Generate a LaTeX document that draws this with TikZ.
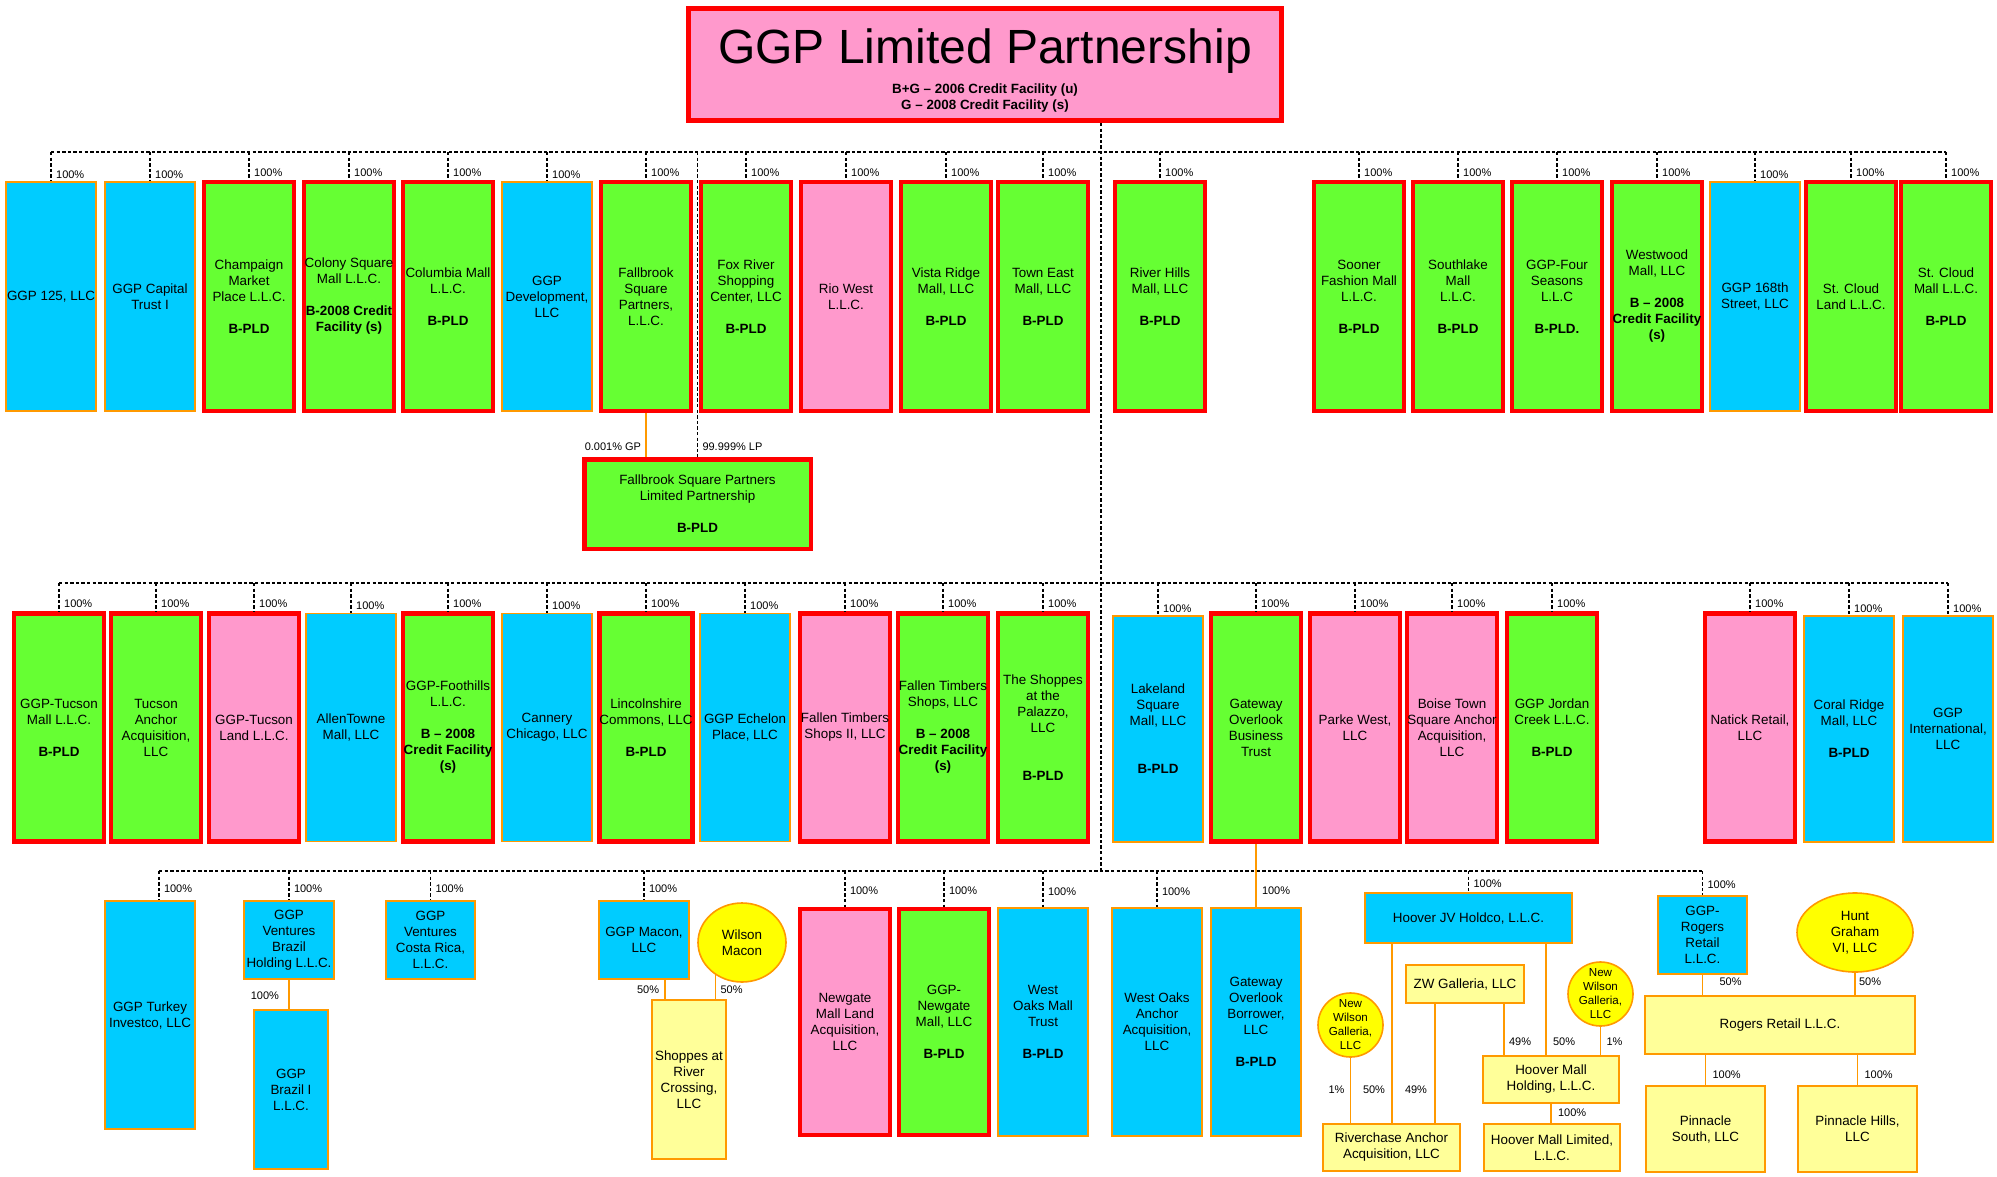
\documentclass[tikz,border=0pt]{standalone}
\usepackage[rgb]{xcolor}
\usepackage{tikz}
\usetikzlibrary{shapes.geometric}
\usepackage{fontspec}
\setmainfont{Liberation Sans}

\definecolor{ggpblue}{HTML}{00CCFF}
\definecolor{ggpgreen}{HTML}{66FF33}
\definecolor{ggppink}{HTML}{FF99CC}
\definecolor{ggpred}{HTML}{FF0000}
\definecolor{ggporange}{HTML}{FF9900}
\definecolor{ggpcream}{HTML}{FFFF99}
\definecolor{ggpyellow}{HTML}{FFFF00}

\tikzset{
 entity/.style={rectangle, inner sep=0pt, align=center, font=\fontsize{6.7}{8}\selectfont},
 bluebox/.style={entity, fill=ggpblue, draw=ggporange, line width=0.55pt},
 greenbox/.style={entity, fill=ggpgreen, draw=ggpred, line width=2.25pt},
 pinkbox/.style={entity, fill=ggppink, draw=ggpred, line width=2.25pt},
 creambox/.style={entity, fill=ggpcream, draw=ggporange, line width=0.9pt},
 partner/.style={entity, ellipse, fill=ggpyellow, draw=ggporange, line width=0.8pt},
 smallpartner/.style={partner, font=\fontsize{5.8}{7}\selectfont, inner ysep=-3pt,
  minimum width=32.5pt, minimum height=32pt},
 tower/.style={minimum width=45pt, minimum height=#1},
 tower/.default=114.5pt,
 owns/.style={dash pattern=on 1.7pt off 1.1pt, line width=0.55pt},
 share/.style={draw=ggporange, line width=0.75pt},
 pct/.style={inner sep=0.8pt, font=\fontsize{5.5}{6.5}\selectfont}
}

\begin{document}
\begin{tikzpicture}[x=0.5pt, y=-0.5pt]
\useasboundingbox (0,0) rectangle (1997,1177);

% the partnership on top
\node[pinkbox, line width=2.5pt, minimum width=296.5pt, minimum height=56pt] (ggplp) at (985,64.5) {};
\node[anchor=base, inner sep=0pt, font=\fontsize{24}{28}\selectfont] (ggptitle) at (985,64) {GGP Limited Partnership};
\node[entity, anchor=base] (creditu) at (985,94) {\textbf{B+G – 2006 Credit Facility (u)}};
\node[entity, anchor=base] (credits) at (985,110) {\textbf{G – 2008 Credit Facility (s)}};

\coordinate (barone) at (1101,152);
\coordinate (bartwo) at (1101,583);
\coordinate (barthree) at (1101,871);

% first row
\path
(51,296.5) node[bluebox, tower] (g125) {GGP 125, LLC}
(150,296.5) node[bluebox, tower] (captrust) {GGP Capital\\Trust I}
(249,296.5) node[greenbox, tower] (champaign) {Champaign\\Market\\Place L.L.C.\\[8pt]\textbf{B-PLD}}
(349,296.5) node[greenbox, tower] (colony) {Colony Square\\Mall L.L.C.\\[8pt]\textbf{B-2008 Credit}\\\textbf{Facility (s)}}
(448,296.5) node[greenbox, tower] (columbia) {Columbia Mall\\L.L.C.\\[8pt]\textbf{B-PLD}}
(547,296.5) node[bluebox, tower] (development) {GGP\\Development,\\LLC}
(646,296.5) node[greenbox, tower] (fallbrook) {Fallbrook\\Square\\Partners,\\L.L.C.}
(746,296.5) node[greenbox, tower] (foxriver) {Fox River\\Shopping\\Center, LLC\\[8pt]\textbf{B-PLD}}
(846,296.5) node[pinkbox, tower] (riowest) {Rio West\\L.L.C.}
(946,296.5) node[greenbox, tower] (vistaridge) {Vista Ridge\\Mall, LLC\\[8pt]\textbf{B-PLD}}
(1043,296.5) node[greenbox, tower] (towneast) {Town East\\Mall, LLC\\[8pt]\textbf{B-PLD}}
(1160,296.5) node[greenbox, tower] (riverhills) {River Hills\\Mall, LLC\\[8pt]\textbf{B-PLD}}
(1359,296.5) node[greenbox, tower] (sooner) {Sooner\\Fashion Mall\\L.L.C.\\[8pt]\textbf{B-PLD}}
(1458,296.5) node[greenbox, tower] (southlake) {Southlake\\Mall\\L.L.C.\\[8pt]\textbf{B-PLD}}
(1557,296.5) node[greenbox, tower] (fourseasons) {GGP-Four\\Seasons\\L.L.C\\[8pt]\textbf{B-PLD.}}
(1657,296.5) node[greenbox, tower] (westwood) {Westwood\\Mall, LLC\\[8pt]\textbf{B – 2008}\\\textbf{Credit Facility}\\\textbf{(s)}}
(1755,296.5) node[bluebox, tower] (street168) {GGP 168th\\Street, LLC}
(1851,296.5) node[greenbox, tower] (cloudland) {St. Cloud\\Land L.L.C.}
(1946,296.5) node[greenbox, tower] (cloudmall) {St. Cloud\\Mall L.L.C.\\[8pt]\textbf{B-PLD}};

% fallbrook limited partnership
\node[greenbox, minimum width=113.25pt, minimum height=44.75pt] (fsplp) at (697.5,504)
 {Fallbrook Square Partners\\Limited Partnership\\[8pt]\textbf{B-PLD}};

% second row
\path
(59,727.5) node[greenbox, tower=114pt] (tucsonmall) {GGP-Tucson\\Mall L.L.C.\\[8pt]\textbf{B-PLD}}
(156,727.5) node[greenbox, tower=114pt] (tucsonanchor) {Tucson\\Anchor\\Acquisition,\\LLC}
(254,727.5) node[pinkbox, tower=114pt] (tucsonland) {GGP-Tucson\\Land L.L.C.}
(351,727.5) node[bluebox, tower=114pt] (allentowne) {AllenTowne\\Mall, LLC}
(448,727.5) node[greenbox, tower=114pt] (foothills) {GGP-Foothills\\L.L.C.\\[8pt]\textbf{B – 2008}\\\textbf{Credit Facility}\\\textbf{(s)}}
(547,727.5) node[bluebox, tower=114pt] (cannery) {Cannery\\Chicago, LLC}
(646,727.5) node[greenbox, tower=114pt] (lincolnshire) {Lincolnshire\\Commons, LLC\\[8pt]\textbf{B-PLD}}
(745,727.5) node[bluebox, tower=114pt] (echelon) {GGP Echelon\\Place, LLC}
(845,727.5) node[pinkbox, tower=114pt] (timberstwo) {Fallen Timbers\\Shops II, LLC}
(943,727.5) node[greenbox, tower=114pt] (timbers) {Fallen Timbers\\Shops, LLC\\[8pt]\textbf{B – 2008}\\\textbf{Credit Facility}\\\textbf{(s)}}
(1043,727.5) node[greenbox, tower=114pt] (palazzo) {The Shoppes\\at the\\Palazzo,\\LLC\\[16pt]\textbf{B-PLD}}
(1158,729) node[bluebox, tower=113pt] (lakeland) {Lakeland\\Square\\Mall, LLC\\[16pt]\textbf{B-PLD}}
(1256,727.5) node[greenbox, tower=114pt] (gatewaytrust) {Gateway\\Overlook\\Business\\Trust}
(1355,727.5) node[pinkbox, tower=114pt] (parkewest) {Parke West,\\LLC}
(1452,727.5) node[pinkbox, tower=114pt] (boise) {Boise Town\\Square Anchor\\Acquisition,\\LLC}
(1552,727.5) node[greenbox, tower=114pt] (jordan) {GGP Jordan\\Creek L.L.C.\\[8pt]\textbf{B-PLD}}
(1750,727.5) node[pinkbox, tower=114pt] (natick) {Natick Retail,\\LLC}
(1849,729) node[bluebox, tower=113pt] (coralridge) {Coral Ridge\\Mall, LLC\\[8pt]\textbf{B-PLD}}
(1948,729) node[bluebox, tower=113pt] (international) {GGP\\International,\\LLC};

% third row
\path
(150,1015) node[bluebox, tower=114pt] (turkey) {GGP Turkey\\Investco, LLC}
(289,940) node[bluebox, minimum width=45pt, minimum height=39pt] (brazilholding) {GGP\\Ventures\\Brazil\\Holding L.L.C.}
(291,1089.5) node[bluebox, minimum width=37pt, minimum height=79.5pt] (brazilone) {GGP\\Brazil I\\L.L.C.}
(430.5,940) node[bluebox, minimum width=44.5pt, minimum height=39pt] (costarica) {GGP\\Ventures\\Costa Rica,\\L.L.C.}
(644,940) node[bluebox, minimum width=45pt, minimum height=39pt] (macon) {GGP Macon,\\LLC}
(742,942.5) node[partner, minimum width=44pt, minimum height=39.5pt] (wilson) {Wilson\\Macon}
(689,1079.5) node[creambox, minimum width=37pt, minimum height=79.5pt] (shoppes) {Shoppes at\\River\\Crossing,\\LLC}
(845,1022) node[pinkbox, tower=113pt] (newgateland) {Newgate\\Mall Land\\Acquisition,\\LLC}
(944,1022) node[greenbox, tower=113pt] (newgate) {GGP-\\Newgate\\Mall, LLC\\[8pt]\textbf{B-PLD}}
(1043,1022) node[bluebox, tower=114pt] (westoakstrust) {West\\Oaks Mall\\Trust\\[8pt]\textbf{B-PLD}}
(1157,1022) node[bluebox, tower=114pt] (westoaksanchor) {West Oaks\\Anchor\\Acquisition,\\LLC}
(1256,1022) node[bluebox, tower=114pt] (gatewayborrower) {Gateway\\Overlook\\Borrower,\\LLC\\[8pt]\textbf{B-PLD}};

% hoover and rogers joint ventures
\path
(1468.5,918) node[bluebox, minimum width=103.5pt, minimum height=25pt] (hooverjv) {Hoover JV Holdco, L.L.C.}
(1465,984) node[creambox, minimum width=59pt, minimum height=19pt] (zwgalleria) {ZW Galleria, LLC}
(1350.5,1025) node[smallpartner] (nwgleft) {New\\Wilson\\Galleria,\\LLC}
(1600.5,994) node[smallpartner] (nwgright) {New\\Wilson\\Galleria,\\LLC}
(1551,1079.5) node[creambox, minimum width=68pt, minimum height=23.5pt] (hooverholding) {Hoover Mall\\Holding, L.L.C.}
(1552,1147.5) node[creambox, minimum width=68pt, minimum height=23.5pt] (hooverlimited) {Hoover Mall Limited,\\L.L.C.}
(1391.5,1147.5) node[creambox, minimum width=68.5pt, minimum height=23.5pt] (riverchase) {Riverchase Anchor\\Acquisition, LLC}
(1702.5,935) node[bluebox, minimum width=44.5pt, minimum height=39pt] (rogersggp) {GGP-\\Rogers\\Retail\\L.L.C.}
(1855,932.5) node[partner, minimum width=58pt, minimum height=39.5pt] (huntgraham) {Hunt\\Graham\\VI, LLC}
(1780,1025) node[creambox, minimum width=135pt, minimum height=29pt] (rogersretail) {Rogers Retail L.L.C.}
(1705.5,1129) node[creambox, minimum width=59.5pt, minimum height=43pt] (pinnsouth) {Pinnacle\\South, LLC}
(1857.5,1129) node[creambox, minimum width=59.5pt, minimum height=43pt] (pinnhills) {Pinnacle Hills,\\LLC};

% dashed ownership lines
\draw[owns] (ggplp.south -| barone) -- (barthree);
\draw[owns] (g125.north |- barone) -- (cloudmall.north |- barone);
\draw[owns] (tucsonmall.north |- bartwo) -- (international.north |- bartwo);
\coordinate (turkeytop) at ([xshift=4.5pt]turkey.north);
\draw[owns] (turkeytop |- barthree) -- (rogersggp.north |- barthree);

\foreach \n in {g125, captrust, champaign, colony, columbia, development, fallbrook, foxriver,
 riowest, vistaridge, towneast, riverhills, sooner, southlake, fourseasons, westwood,
 street168, cloudland, cloudmall}
 {
 \draw[owns] (\n.north |- barone) -- (\n.north)
  node[pct, anchor=south west, xshift=1.5pt, yshift=0.5pt] (\n-pct) {100\%};
 }

\foreach \n in {tucsonmall, tucsonanchor, tucsonland, allentowne, foothills, cannery,
 lincolnshire, echelon, timberstwo, timbers, palazzo, lakeland, gatewaytrust, parkewest,
 boise, jordan, natick, coralridge, international}
 {
 \draw[owns] (\n.north |- bartwo) -- (\n.north)
  node[pct, anchor=south west, xshift=1.5pt, yshift=0.5pt] (\n-pct) {100\%};
 }

\foreach \p/\ly/\nm in {turkeytop/895/turkeypct, brazilholding.north/895/brazilpct,
 costarica.north/895/costaricapct, macon.north/895/maconpct,
 newgateland.north/897/newgatelandpct, newgate.north/897/newgatepct,
 westoakstrust.north/898/westoakstrustpct, westoaksanchor.north/898/westoaksanchorpct,
 hooverjv.north/890/hooverjvpct, rogersggp.north/891/rogersggppct}
 {
 \draw[owns] (\p |- barthree) -- (\p);
 \path (\p |- 0,\ly) node[pct, anchor=south west, xshift=1.5pt] (\nm) {100\%};
 }

% fallbrook partners
\draw[owns] (fsplp.north |- barone) -- (fsplp.north);
\path (fsplp.north) ++(3,-4) node[pct, anchor=south west] (lppct) {99.999\% LP};
\draw[share] (fallbrook.south) -- (fallbrook.south |- fsplp.north);
\path (fallbrook.south |- fsplp.north) ++(-3,-4) node[pct, anchor=south east] (gppct) {0.001\% GP};

% gateway and brazil
\draw[share] (gatewaytrust.south) -- (gatewayborrower.north);
\path (gatewayborrower.north |- 0,897) node[pct, anchor=south west, xshift=2pt] (gatewaypct) {100\%};
\draw[share] (brazilholding.south) -- (brazilholding.south |- brazilone.north);
\path (brazilholding.south) ++(-8,16) node[pct, anchor=east] (brazilonepct) {100\%};

% shoppes at river crossing
\coordinate (maconfoot) at ([xshift=7pt]shoppes.north west);
\draw[share] (maconfoot |- macon.south) -- (maconfoot);
\path (maconfoot) ++(-4,-9) node[pct, anchor=east] (maconhalf) {50\%};
\draw[share] (wilson.-129) -- (wilson.-129 |- shoppes.north);
\path (wilson.-129 |- shoppes.north) ++(3,-9) node[pct, anchor=west] (wilsonhalf) {50\%};

% hoover mall
\coordinate (jvleft) at (1392,0);
\coordinate (jvright) at (1546,0);
\coordinate (zwleft) at (1435,0);
\coordinate (zwright) at (1504,0);
\draw[share] (nwgleft.south) -- (nwgleft.south |- riverchase.north);
\draw[share] (hooverjv.south -| jvleft) -- (riverchase.north -| jvleft);
\draw[share] (zwgalleria.south -| zwleft) -- (riverchase.north -| zwleft);
\path (nwgleft.south |- riverchase.north) ++(-4,-33) node[pct, anchor=east] (riverone) {1\%};
\path (riverchase.north -| jvleft) ++(-5,-33) node[pct, anchor=east] (riverfifty) {50\%};
\path (riverchase.north -| zwleft) ++(-6,-33) node[pct, anchor=east] (riverfortynine) {49\%};

\draw[share] (zwgalleria.south -| zwright) -- (hooverholding.north -| zwright);
\draw[share] (hooverjv.south -| jvright) -- (hooverholding.north -| jvright);
\draw[share] (nwgright.south) -- (nwgright.south |- hooverholding.north);
\path (hooverholding.north -| zwright) ++(3,-13) node[pct, anchor=west] (holdfortynine) {49\%};
\path (hooverholding.north -| jvright) ++(5,-13) node[pct, anchor=west] (holdfifty) {50\%};
\path (nwgright.south |- hooverholding.north) ++(4,-13) node[pct, anchor=west] (holdone) {1\%};

\draw[share] (hooverholding.south) -- (hooverholding.south |- hooverlimited.north);
\path (hooverholding.south |- hooverlimited.north) ++(5,-10) node[pct, anchor=west] (limitedpct) {100\%};

% rogers retail
\draw[share] (rogersggp.south) -- (rogersggp.south |- rogersretail.north);
\draw[share] (huntgraham.south) -- (huntgraham.south |- rogersretail.north);
\path (rogersggp.south |- rogersretail.north) ++(15,-13) node[pct, anchor=west] (rogershalf) {50\%};
\path (huntgraham.south |- rogersretail.north) ++(2,-13) node[pct, anchor=west] (hunthalf) {50\%};
\draw[share] (pinnsouth.north |- rogersretail.south) -- (pinnsouth.north);
\draw[share] (pinnhills.north |- rogersretail.south) -- (pinnhills.north);
\path (pinnsouth.north) ++(5,-10) node[pct, anchor=west] (southpct) {100\%};
\path (pinnhills.north) ++(5,-10) node[pct, anchor=west] (hillspct) {100\%};

\end{tikzpicture}
\end{document}
